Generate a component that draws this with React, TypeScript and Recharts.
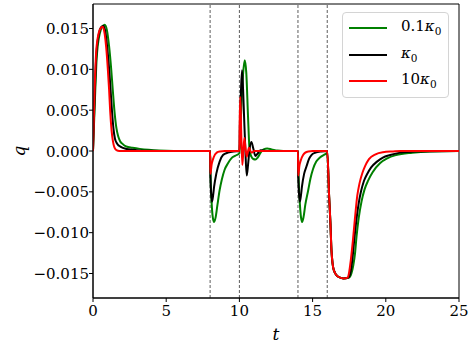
import React from "react";
import {
  LineChart, Line, XAxis, YAxis, ReferenceLine, ReferenceArea, Legend,
} from "recharts";

// (t, q) samples
const GREEN: [number, number][] = [
  [0, 0], [0.1, 0.0048], [0.25, 0.0113], [0.45, 0.0143], [0.62, 0.0152], [0.8, 0.01545], [0.95, 0.0148],
  [1.1, 0.0128], [1.24, 0.0101], [1.35, 0.0075], [1.47, 0.0048], [1.6, 0.0028], [1.72, 0.0018], [1.85, 0.0012],
  [2.0, 0.0009], [2.27, 0.00055], [2.7, 0.0004], [3.2, 0.00026], [3.8, 0.00014], [4.5, 0.00005], [5.5, 0], [8, 0],
  [8.03, -0.003], [8.1, -0.0062], [8.18, -0.0081], [8.27, -0.0087], [8.38, -0.0081], [8.5, -0.0066], [8.65, -0.0048],
  [8.8, -0.0035], [8.99, -0.0023], [9.22, -0.0015], [9.45, -0.0009], [9.7, -0.0006], [10, -0.0003],
  [10.08, 0.003], [10.15, 0.0062], [10.25, 0.0094], [10.36, 0.0111], [10.47, 0.0096], [10.59, 0.0042], [10.7, 0],
  [10.82, -0.0007], [10.95, -0.00098], [11.1, -0.00105], [11.25, -0.0008], [11.45, -0.0002], [11.65, 0.0002],
  [11.9, 0.0003], [12.2, 0.0002], [12.6, 0.00005], [13, 0], [14, 0],
  [14.04, -0.003], [14.12, -0.0062], [14.2, -0.008], [14.28, -0.0087], [14.38, -0.0081], [14.5, -0.0066],
  [14.7, -0.0048], [14.85, -0.0034], [15.03, -0.0022], [15.25, -0.0013], [15.5, -0.0008], [15.75, -0.0005], [16, -0.0003],
  [16.13, -0.0056], [16.22, -0.0089], [16.29, -0.0122], [16.45, -0.0146], [16.75, -0.0154], [17.1, -0.0156],
  [17.5, -0.0155], [17.65, -0.015], [17.78, -0.014], [17.9, -0.0125], [18.0, -0.0105], [18.15, -0.0082],
  [18.34, -0.0062], [18.55, -0.0047], [18.8, -0.0036], [19.1, -0.0026], [19.6, -0.0015], [20.1, -0.0009],
  [20.7, -0.0005], [21.8, -0.0002], [23, -0.00005], [25, 0],
];

const BLACK: [number, number][] = [
  [0, 0], [0.09, 0.0053], [0.23, 0.0118], [0.42, 0.0145], [0.58, 0.0152], [0.72, 0.0153], [0.86, 0.0144],
  [0.97, 0.0127], [1.1, 0.0101], [1.2, 0.0075], [1.3, 0.0048], [1.4, 0.0027], [1.5, 0.0015], [1.65, 0.0009],
  [1.9, 0.0005], [2.3, 0.00025], [3, 0.0001], [4, 0.00003], [5, 0], [8, 0],
  [8.02, -0.003], [8.07, -0.0052], [8.13, -0.0062], [8.2, -0.0055], [8.27, -0.0044], [8.42, -0.0028],
  [8.65, -0.0013], [8.88, -0.0005], [9.22, -0.0002], [9.6, -0.00005], [10, 0],
  [10.03, 0.003], [10.1, 0.007], [10.18, 0.0099], [10.25, 0.0076], [10.32, 0.0042], [10.41, 0], [10.5, -0.003],
  [10.59, -0.0017], [10.68, 0], [10.82, 0.0011], [10.95, 0.0003], [11.09, -0.0006], [11.25, -0.0003],
  [11.45, 0.0001], [11.8, 0], [14, 0],
  [14.02, -0.003], [14.07, -0.0052], [14.13, -0.0062], [14.2, -0.0055], [14.27, -0.0044], [14.42, -0.0028],
  [14.58, -0.0019], [14.75, -0.001], [14.92, -0.0005], [15.2, -0.0002], [15.6, -0.00005], [16, 0],
  [16.13, -0.0056], [16.22, -0.0089], [16.29, -0.0122], [16.45, -0.0146], [16.75, -0.0154], [17.1, -0.0156],
  [17.45, -0.0155], [17.6, -0.0148], [17.72, -0.0132], [17.85, -0.0108], [18.0, -0.0083], [18.15, -0.0064],
  [18.3, -0.005], [18.5, -0.0037], [18.7, -0.0029], [19.0, -0.002], [19.4, -0.0013], [19.8, -0.0008],
  [20.3, -0.0005], [21, -0.0002], [22, -0.00005], [25, 0],
];

const RED: [number, number][] = [
  [0, 0], [0.08, 0.0056], [0.22, 0.0122], [0.4, 0.0145], [0.55, 0.0151], [0.67, 0.0152], [0.8, 0.0143],
  [0.9, 0.0127], [1.01, 0.0101], [1.1, 0.0075], [1.17, 0.005], [1.27, 0.0025], [1.36, 0.0012], [1.47, 0.0004],
  [1.6, 0.0001], [1.8, 0], [8, 0],
  [8.02, -0.0028], [8.1, -0.0017], [8.2, -0.001], [8.31, -0.0005], [8.45, -0.0002], [8.65, -0.00005], [9, 0], [10, 0],
  [10.02, 0.0035], [10.06, 0.0066], [10.12, 0.0025], [10.2, -0.0017], [10.27, 0], [10.34, 0.0016], [10.42, 0.0003],
  [10.5, -0.0007], [10.58, -0.0001], [10.65, 0.0004], [10.75, 0], [10.85, -0.0002], [11, 0], [14, 0],
  [14.02, -0.003], [14.1, -0.0018], [14.2, -0.0011], [14.35, -0.0005], [14.5, -0.0002], [14.7, -0.00005], [15, 0], [16, 0],
  [16.13, -0.0056], [16.22, -0.0089], [16.29, -0.0122], [16.45, -0.0146], [16.75, -0.0154], [17.1, -0.0156],
  [17.4, -0.0155], [17.5, -0.0148], [17.6, -0.0135], [17.75, -0.011], [17.88, -0.0085], [18.05, -0.0055],
  [18.2, -0.004], [18.4, -0.0027], [18.6, -0.0018], [18.85, -0.001], [19.3, -0.0004], [19.8, -0.00015],
  [20.5, -0.00005], [21, 0], [25, 0],
];

const SWITCH_TIMES = [8, 10, 14, 16];
const X_TICKS = [0, 5, 10, 15, 20, 25];
const Y_TICKS = [-0.015, -0.01, -0.005, 0, 0.005, 0.01, 0.015];
const X_DOMAIN: [number, number] = [0, 25];
const Y_DOMAIN: [number, number] = [-0.018, 0.018];

const SERIES = [
  { name: "0.1κ0", prefix: "0.1", color: "#008000", points: GREEN },
  { name: "κ0", prefix: "", color: "#000000", points: BLACK },
  { name: "10κ0", prefix: "10", color: "#ff0000", points: RED },
];

const FONT = "DejaVu Serif";

const fmtY = (v: number) => (v < 0 ? "\u2212" : "") + Math.abs(v).toFixed(3);

function XTick({ x, y, payload }: any) {
  return (
    <text x={x} y={y} dy={11} textAnchor="middle" fill="#000" fontSize={15} fontFamily={FONT}>
      {payload.value}
    </text>
  );
}

function YTick({ x, y, payload }: any) {
  return (
    <text x={x} y={y} dy={5.5} textAnchor="end" fill="#000" fontSize={15} fontFamily={FONT}>
      {fmtY(payload.value)}
    </text>
  );
}

function LegendBox() {
  return (
    <div style={{
      width: 107, height: 86, boxSizing: "border-box", border: "1px solid #d4d4d4",
      borderRadius: 4, background: "rgba(255,255,255,0.8)", fontFamily: FONT, fontSize: 15,
      paddingTop: 1, color: "#000",
    }}>
      {SERIES.map((s) => (
        <div key={s.name} style={{ height: 26.7, position: "relative" }}>
          <div style={{ position: "absolute", left: 6, top: 13, width: 38, height: 2, background: s.color }} />
          <span style={{ position: "absolute", left: 58, top: 5, whiteSpace: "nowrap", lineHeight: 1 }}>
            {s.prefix}<i>κ</i><sub style={{ fontSize: 10.5, verticalAlign: -4 }}>0</sub>
          </span>
        </div>
      ))}
    </div>
  );
}

export default function App() {
  return (
    <div style={{ position: "absolute", left: 0, top: 0, width: 469, height: 351, background: "#fff" }}>
      <LineChart width={469} height={351} margin={{ top: 4, right: 10, left: 0, bottom: 0 }} style={{ fontFamily: FONT }}>
        <XAxis
          dataKey="t" type="number" domain={X_DOMAIN} ticks={X_TICKS} allowDataOverflow
          height={53} tickSize={4} tickMargin={3} stroke="#000" tick={<XTick />}
          label={{ value: "t", position: "insideBottom", offset: 11, fill: "#000", fontSize: 17, fontFamily: FONT, fontStyle: "italic" }}
        />
        <YAxis
          type="number" domain={Y_DOMAIN} ticks={Y_TICKS} allowDataOverflow
          width={93} tickSize={4} tickMargin={0} stroke="#000" tick={<YTick />}
          label={{ value: "q", angle: -90, position: "center", dx: -28, fill: "#000", fontSize: 17, fontFamily: FONT, fontStyle: "italic" }}
        />
        <ReferenceArea x1={0} x2={25} y1={-0.018} y2={0.018} fill="none" stroke="#000" strokeWidth={1} />
        {SWITCH_TIMES.map((t) => (
          <ReferenceLine key={t} x={t} stroke="#333" strokeWidth={0.8} strokeDasharray="3 2" />
        ))}
        {SERIES.map((s) => (
          <Line
            key={s.name} name={s.name} data={s.points.map(([t, q]) => ({ t, q }))} dataKey="q"
            type="monotone" stroke={s.color} strokeWidth={2} dot={false} isAnimationActive={false}
          />
        ))}
        <Legend
          layout="vertical" align="center" verticalAlign="middle" content={() => <LegendBox />}
          wrapperStyle={{ top: 12, left: 342, right: "auto", bottom: "auto", width: 107, height: 86 }}
        />
      </LineChart>
    </div>
  );
}
